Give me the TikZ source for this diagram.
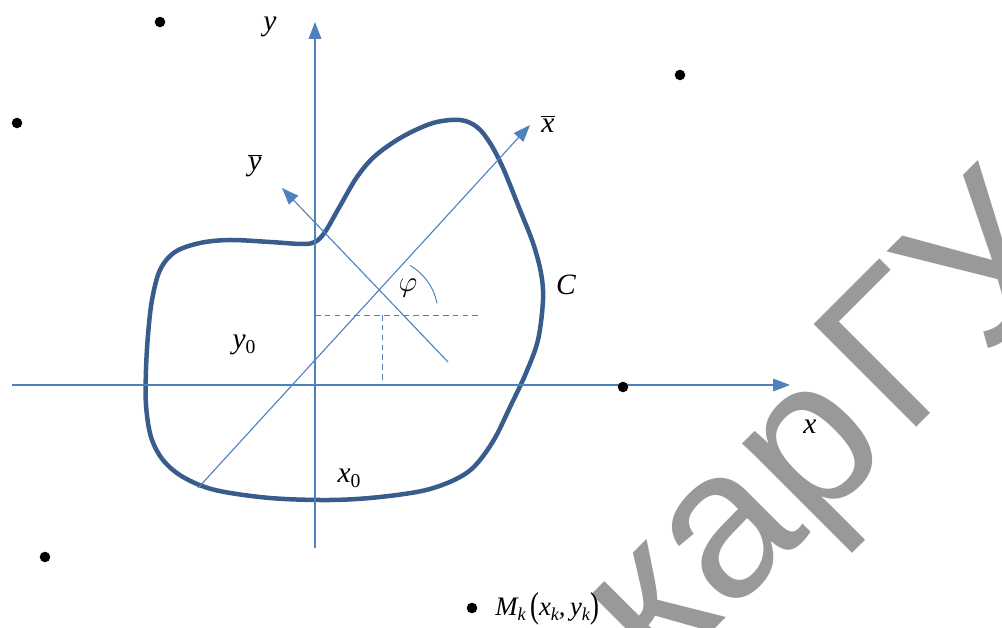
\documentclass[tikz,border=0pt]{standalone}
\usepackage{fontspec}
\usepackage{graphicx}
\setmainfont{Liberation Serif}
\newfontfamily\wmfont{Liberation Sans}
\usetikzlibrary{arrows.meta}
\definecolor{contourblue}{RGB}{56,93,140}
\definecolor{axisblue}{RGB}{79,129,189}
\tikzset{
  axis/.style={draw=axisblue, line width=0.8pt, -{Triangle[length=12pt,width=9pt]}},
  plainaxis/.style={draw=axisblue, line width=0.8pt},
  guide/.style={draw=axisblue, line width=0.7pt, dash pattern=on 4pt off 3pt},
  curveC/.style={draw=contourblue, line width=3.2pt, line join=round},
  pt/.style={circle, fill=black, inner sep=0pt, minimum size=7.5pt},
  lbl/.style={inner sep=0pt, font=\fontsize{21}{25}\selectfont\itshape},
  wm/.style={inner sep=0pt, text=black!40, font=\fontsize{150}{150}\selectfont\wmfont}
}
\newcommand{\subz}{\raisebox{-0.35ex}{\fontsize{14}{14}\selectfont\upshape 0}}
\newcommand{\subk}{\raisebox{-0.35ex}{\fontsize{13}{13}\selectfont\itshape k}}
\newcommand{\tallp}[1]{\raisebox{-0.15ex}{\scalebox{1}[1.35]{\upshape #1}}}
\begin{document}
\begin{tikzpicture}[x=0.025cm,y=-0.025cm]
\useasboundingbox (0,0) rectangle (1002,628);
% watermark (background)
\node[wm, rotate=45, anchor=base west] (wmark) at (660,684) {кар\kern10ptГУ};
% coordinates
\coordinate (yb) at (315,548);
\coordinate (yt) at (315,22);
\coordinate (xl) at (12,385);
\coordinate (xr) at (790,385);
\coordinate (xbb) at (198,488);
\coordinate (xbt) at (530,125);
\coordinate (ybb) at (448,362);
\coordinate (ybt) at (282,188);
\coordinate (dh1) at (315,315);
\coordinate (dh2) at (478,315);
\coordinate (dv1) at (382,315);
\coordinate (dv2) at (382,385);
% contour C
\draw[curveC] plot[smooth cycle, tension=0.55] coordinates {
 (315,242) (325,232) (340,206) (357,177) (375,156) (402,137) (433,123) (460,120)
 (477,127) (490,143) (503,168) (520,210) (533,243) (541,273) (543,300) (538,340)
 (526,373) (511,405) (492,443) (468,472) (430,489) (380,497) (330,500) (270,498)
 (215,490) (183,477) (163,460) (151,437) (146,405) (146,370) (148,335) (152,300)
 (160,270) (175,252) (200,243) (230,240) (270,242) (302,244)};
% axes
\draw[axis] (yb) -- (yt);
\draw[axis] (xl) -- (xr);
\draw[axis] (xbb) -- (xbt);
\draw[axis] (ybb) -- (ybt);
% dashed guides
\draw[guide] (dh1) -- (dh2);
\draw[guide] (dv1) -- (dv2);
% angle arc
\draw[plainaxis, line width=0.7pt] plot[domain=11:60, samples=30] ({382+56*cos(\x)},{314-56*sin(\x)});
% labels
\node[lbl] (ly) at (270,27) {y};
\node[lbl] (lx) at (810,427) {x};
\node[lbl] (lxb) at (548,124) {$\overline{\hbox{\itshape x}}$};
\node[lbl] (lyb) at (255,166) {$\overline{\hbox{\itshape y}}$};
\node[lbl] (lphi) at (408,288) {$\varphi$};
\node[lbl] (lC) at (566,285) {C};
\node[lbl] (ly0) at (244,345) {y\subz};
\node[lbl] (lx0) at (349,478) {x\subz};
% points
\node[pt] (p1) at (160,22) {};
\node[pt] (p2) at (17,123) {};
\node[pt] (p3) at (680,75) {};
\node[pt] (p4) at (623,387) {};
\node[pt] (p5) at (45,557) {};
\node[pt] (p6) at (472,608) {};
\node[lbl, anchor=west, font=\fontsize{19}{23}\selectfont\itshape] (lM) at (495,609) {M\subk\,\tallp{(}x\subk,\,y\subk\tallp{)}};
\end{tikzpicture}
\end{document}
